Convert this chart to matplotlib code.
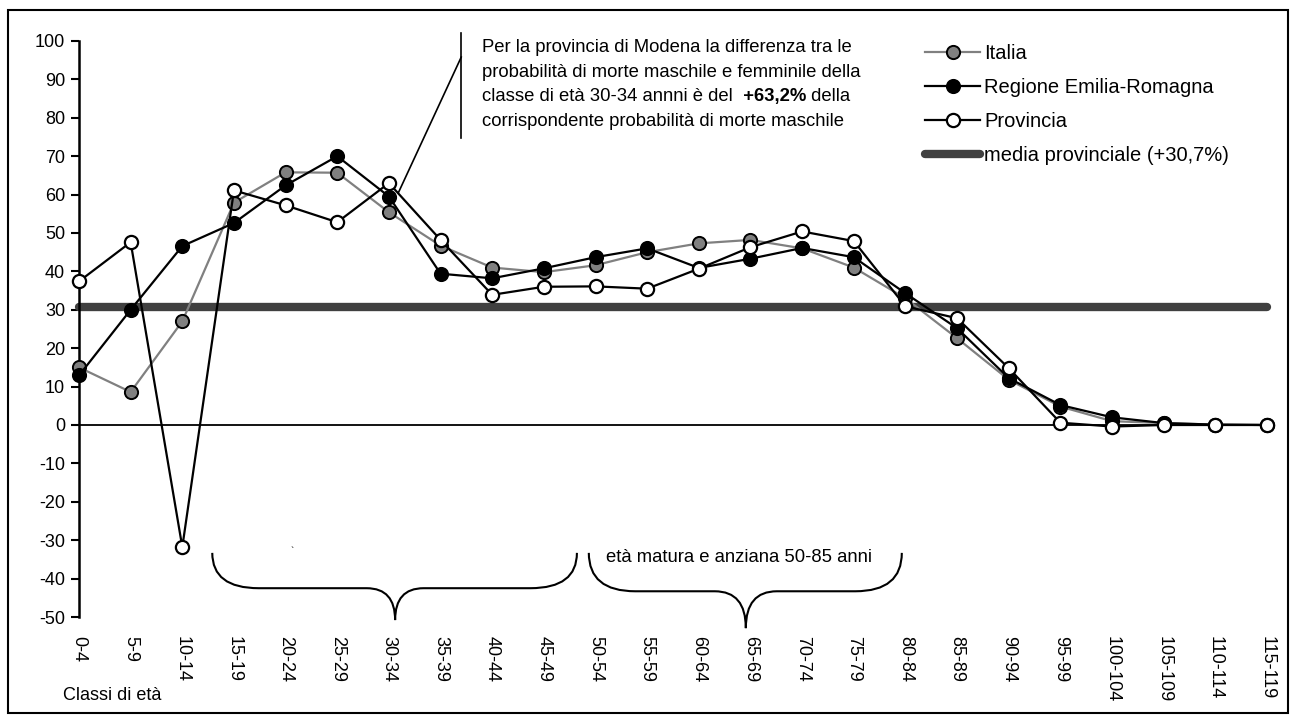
import matplotlib
matplotlib.use("Agg")
import matplotlib.pyplot as plt
from matplotlib.patches import Rectangle, PathPatch
from matplotlib.path import Path
from matplotlib.lines import Line2D

plt.rcParams["font.family"] = ["Liberation Sans", "DejaVu Sans"]
plt.rcParams["axes.unicode_minus"] = False

classi = ["0-4", "5-9", "10-14", "15-19", "20-24", "25-29", "30-34", "35-39",
          "40-44", "45-49", "50-54", "55-59", "60-64", "65-69", "70-74", "75-79",
          "80-84", "85-89", "90-94", "95-99", "100-104", "105-109", "110-114", "115-119"]

italia = [15.0, 8.6, 27.0, 57.9, 65.8, 65.7, 55.4, 46.7, 41.0, 39.8, 41.6, 45.0,
          47.3, 48.2, 46.0, 41.0, 33.0, 22.6, 11.8, 4.8, 1.0, 0.5, 0.1, 0.0]
regione = [12.9, 30.0, 46.6, 52.6, 62.4, 70.0, 59.5, 39.4, 38.2, 40.8, 43.7, 46.0,
           40.9, 43.3, 46.1, 43.7, 34.3, 25.2, 12.2, 5.2, 2.0, 0.5, 0.1, 0.0]
provincia = [37.4, 47.6, -31.8, 61.1, 57.2, 52.8, 63.0, 48.2, 33.9, 36.0, 36.1, 35.5,
             40.7, 46.3, 50.4, 47.9, 30.9, 27.8, 14.8, 0.6, -0.4, 0.0, 0.0, 0.0]
media_provinciale = 30.7

W, H = 1296, 720
fig = plt.figure(figsize=(W / 100, H / 100), dpi=100)
ax = fig.add_axes([79 / W, 1 - 617 / H, (1267 - 79) / W, 576 / H])

x = list(range(len(classi)))

ax.plot([x[0], x[-1]], [media_provinciale] * 2, color="#404040", lw=6,
        solid_capstyle="round", zorder=2, clip_on=False)
ax.axhline(0, color="black", lw=1.3, zorder=1)

ms = 9.5
ax.plot(x, italia, color="#808080", lw=1.6, marker="o", ms=ms, mfc="#808080",
        mec="black", mew=1.4, zorder=3, clip_on=False)
ax.plot(x, regione, color="black", lw=1.6, marker="o", ms=ms, mfc="black",
        mec="black", mew=1.4, zorder=4, clip_on=False)
ax.plot(x, provincia, color="black", lw=1.6, marker="o", ms=ms, mfc="white",
        mec="black", mew=1.6, zorder=5, clip_on=False)

ax.set_xlim(0, len(classi) - 1)
ax.set_ylim(-50, 100)
ax.set_yticks(range(-50, 101, 10))
ax.set_xticks(x)
ax.set_xticklabels(classi, rotation=-90, fontsize=13)
ax.tick_params(axis="x", length=0, pad=14)
ax.tick_params(axis="y", direction="out", length=6, width=1.5, labelsize=13, pad=4)
for s in ["top", "right", "bottom"]:
    ax.spines[s].set_visible(False)
ax.spines["left"].set_linewidth(1.8)

# annotation
ax.plot([7.40, 7.40], [102.1, 74.7], color="black", lw=1.2, clip_on=False)
ax.plot([6.18, 7.40], [60.4, 95.8], color="black", lw=1.2, clip_on=False)
tx = 7.80
fs = 13.3
ax.text(tx, 97.1, "Per la provincia di Modena la differenza tra le", fontsize=fs, va="baseline")
ax.text(tx, 90.7, "probabilità di morte maschile e femminile della", fontsize=fs, va="baseline")
t3 = ax.text(tx, 84.3, "classe di età 30-34 annni è del", fontsize=fs, va="baseline")
t4 = ax.annotate("  +63,2%", xy=(1, 0), xycoords=t3, va="bottom", ha="left",
                 fontsize=fs, fontweight="bold")
ax.annotate(" della", xy=(1, 0), xycoords=t4, va="bottom", ha="left", fontsize=fs)
ax.text(tx, 77.9, "corrispondente probabilità di morte maschile", fontsize=fs, va="baseline")


def brace(x0, x1, xm, ytop, yflat, ytip, dxe, dxt):
    verts = [(x0, ytop), (x0, yflat), (x0 + dxe, yflat), (xm - dxt, yflat),
             (xm, yflat), (xm, ytip), (xm, yflat), (xm + dxt, yflat),
             (x1 - dxe, yflat), (x1, yflat), (x1, ytop)]
    codes = [Path.MOVETO, Path.CURVE3, Path.CURVE3, Path.LINETO,
             Path.CURVE3, Path.CURVE3, Path.CURVE3, Path.CURVE3,
             Path.LINETO, Path.CURVE3, Path.CURVE3]
    ax.add_patch(PathPatch(Path(verts, codes), fill=False, lw=1.5,
                           ec="black", clip_on=False))


brace(2.58, 9.64, 6.12, -33.3, -42.5, -50.8, 0.9, 0.55)
brace(9.87, 15.93, 12.91, -33.3, -43.3, -52.9, 0.9, 0.6)
ax.text(4.12, -33.0, "`", fontsize=7, ha="center", va="center")
ax.text(12.78, -34.6, "età matura e anziana 50-85 anni", fontsize=fs,
        ha="center", va="center")

fig.text(63 / W, 1 - 695 / H, "Classi di età", fontsize=13, va="center")

handles = [
    Line2D([], [], color="#808080", lw=1.6, marker="o", ms=ms, mfc="#808080", mec="black", mew=1.4),
    Line2D([], [], color="black", lw=1.6, marker="o", ms=ms, mfc="black", mec="black", mew=1.4),
    Line2D([], [], color="black", lw=1.6, marker="o", ms=ms, mfc="white", mec="black", mew=1.6),
    Line2D([], [], color="#404040", lw=6, solid_capstyle="round"),
]
labels = ["Italia", "Regione Emilia-Romagna", "Provincia", "media provinciale (+30,7%)"]
fig.legend(handles, labels, loc="upper left", bbox_to_anchor=(925 / W, 1 - 44 / H),
           frameon=False, fontsize=14.5, borderpad=0, borderaxespad=0,
           handlelength=2.75, handletextpad=0.2, labelspacing=0.75)

fig.patches.append(Rectangle((8 / W, 1 - 713 / H), 1280 / W, 703 / H,
                             transform=fig.transFigure, fill=False, lw=1.5,
                             ec="black"))

fig.savefig("out.png", dpi=100)
